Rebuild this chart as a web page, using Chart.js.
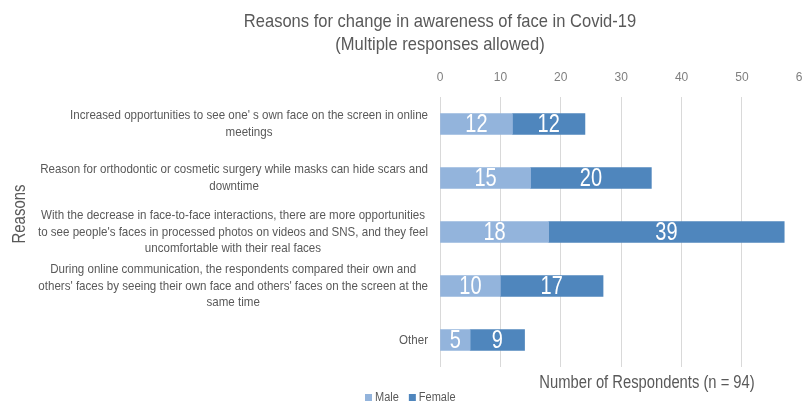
<!DOCTYPE html>
<html>
<head>
<meta charset="utf-8">
<script src="https://cdn.jsdelivr.net/npm/chart.js@4/dist/chart.umd.min.js"></script>
<style>
  html, body { margin: 0; padding: 0; background: #fff; overflow: hidden; }
  #wrap { width: 821px; height: 403px; }
</style>
</head>
<body>
<div id="wrap"><canvas id="reasons_chart" width="821" height="403"></canvas></div>
<script>
var reasons = [
    ["Increased opportunities to see one' s own face on the screen in online", "meetings"],
    ["Reason for orthodontic or cosmetic surgery while masks can hide scars and", "downtime"],
    ["With the decrease in face-to-face interactions, there are more opportunities",
     "to see people's faces in processed photos on videos and SNS, and they feel",
     "uncomfortable with their real faces"],
    ["During online communication, the respondents compared their own and",
     "others' faces by seeing their own face and others' faces on the screen at the",
     "same time"],
    ["Other"]
];
var maleCounts = [12, 15, 18, 10, 5];
var femaleCounts = [12, 20, 39, 17, 9];
var titleLines = ["Reasons for change in awareness of face in Covid-19", "(Multiple responses allowed)"];
var yTitle = "Reasons";
var xTitle = "Number of Respondents (n = 94)";

var fontFam = '"Liberation Sans", Arial, sans-serif';
var textGray = '#595959';

// no narrow font installed, so squeeze the text horizontally
function narrowText(ctx, text, x, y, sx) {
    ctx.save();
    ctx.translate(x, y);
    ctx.scale(sx, 1);
    ctx.fillText(text, 0, 0);
    ctx.restore();
}

var textPlugin = {
    id: 'textPlugin',
    afterDatasetsDraw: function (chart) {
        var ctx = chart.ctx;
        ctx.save();
        ctx.fillStyle = '#ffffff';
        ctx.font = '25px ' + fontFam;
        ctx.textAlign = 'center';
        ctx.textBaseline = 'middle';
        chart.data.datasets.forEach(function (ds, d) {
            chart.getDatasetMeta(d).data.forEach(function (bar, i) {
                narrowText(ctx, String(ds.data[i]), (bar.x + bar.base) / 2, bar.y + 1, 0.8);
            });
        });
        ctx.restore();
    },
    afterDraw: function (chart) {
        var ctx = chart.ctx;
        var y = chart.scales.y;
        ctx.save();
        ctx.fillStyle = textGray;
        ctx.textAlign = 'center';
        ctx.textBaseline = 'middle';
        ctx.font = '19px ' + fontFam;
        narrowText(ctx, titleLines[0], 440, 22, 0.87);
        narrowText(ctx, titleLines[1], 440, 45, 0.87);
        ctx.font = '18px ' + fontFam;
        narrowText(ctx, xTitle, 647, 383, 0.82);

        ctx.font = '13px ' + fontFam;
        var sx = 0.89;
        reasons.forEach(function (lines, i) {
            var cy = y.getPixelForTick(i);
            var w = 0;
            lines.forEach(function (l) { w = Math.max(w, ctx.measureText(l).width * sx); });
            var cx = 428 - w / 2;
            lines.forEach(function (l, j) {
                narrowText(ctx, l, cx, cy + (j - (lines.length - 1) / 2) * 16.5, sx);
            });
        });

        // legend
        ctx.font = '12.5px ' + fontFam;
        ctx.textAlign = 'left';
        var lx = 365;
        chart.data.datasets.forEach(function (ds) {
            ctx.fillStyle = ds.backgroundColor;
            ctx.fillRect(lx, 394, 7, 7);
            ctx.fillStyle = textGray;
            narrowText(ctx, ds.label, lx + 10, 398, 0.88);
            lx += 10 + ctx.measureText(ds.label).width * 0.88 + 10;
        });

        ctx.translate(20, 214);
        ctx.rotate(-Math.PI / 2);
        ctx.textAlign = 'center';
        ctx.font = '18px ' + fontFam;
        narrowText(ctx, yTitle, 0, 0, 0.83);
        ctx.restore();
    }
};

var chart = new Chart('reasons_chart', {
    type: 'bar',
    data: {
        labels: reasons,
        datasets: [{
            label: 'Male',
            data: maleCounts,
            backgroundColor: '#93b4dc'
        }, {
            label: 'Female',
            data: femaleCounts,
            backgroundColor: '#4f86bd'
        }]
    },
    options: {
        indexAxis: 'y',
        responsive: false,
        animation: false,
        layout: { padding: 0 },
        barThickness: 21,
        scales: {
            x: {
                position: 'top',
                stacked: true,
                min: 0,
                max: 60,
                ticks: { stepSize: 10, padding: 12, color: '#7f7f7f', font: { size: 12, family: fontFam } },
                grid: { color: '#d9d9d9', drawTicks: false },
                border: { display: false },
                afterFit: function (s) { s.height = 97; }
            },
            xb: {
                axis: 'x',
                position: 'bottom',
                ticks: { display: false },
                grid: { display: false },
                border: { display: false },
                afterFit: function (s) { s.height = 36; }
            },
            y: {
                stacked: true,
                ticks: { display: false },
                grid: { display: false },
                border: { display: false },
                afterFit: function (s) { s.width = 440; }
            }
        },
        plugins: {
            title: { display: false },
            tooltip: { enabled: false },
            legend: { display: false }
        }
    },
    plugins: [textPlugin]
});
</script>
</body>
</html>
